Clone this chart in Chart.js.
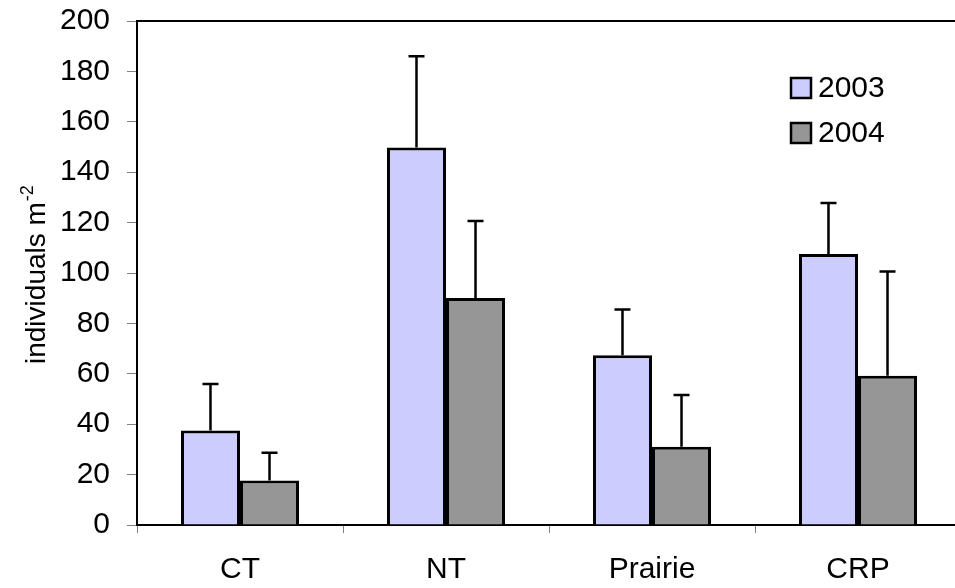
<!DOCTYPE html>
<html>
<head>
<meta charset="utf-8">
<script src="https://cdn.jsdelivr.net/npm/chart.js@4/dist/chart.umd.min.js"></script>
<style>
  html, body { margin: 0; padding: 0; background: #fff; overflow: hidden; }
  #wrap { position: absolute; left: 0; top: 0; width: 962px; height: 588px; }
</style>
</head>
<body>
<div id="wrap"><canvas id="grafico" width="962" height="588"></canvas></div>
<script>
// ====================== DATOS ======================
const categorias = ["CT", "NT", "Prairie", "CRP"];
const valores2003 = [37.5, 149.8, 67.4, 107.5];
const valores2004 = [17.7, 90.1, 31.1, 59.2];
const error2003 = [18.5, 36.2, 18.1, 20.3];
const error2004 = [11.0, 30.5, 20.5, 41.4];
const ticksY = [0, 20, 40, 60, 80, 100, 120, 140, 160, 180, 200];

const FUENTE = '"Liberation Sans", Arial, sans-serif';

// ====================== PLUGINS ======================
// barras de error (solo hacia arriba)
const barrasError = {
    id: "barrasError",
    afterDatasetsDraw(chart) {
        const ctx = chart.ctx;
        const y = chart.scales.y;
        ctx.save();
        ctx.strokeStyle = "#000";
        ctx.lineWidth = 2.5;
        chart.data.datasets.forEach((ds, i) => {
            const meta = chart.getDatasetMeta(i);
            meta.data.forEach((bar, j) => {
                const tope = y.getPixelForValue(ds.data[j] + ds.errores[j]);
                ctx.beginPath();
                ctx.moveTo(bar.x, bar.y);
                ctx.lineTo(bar.x, tope);
                ctx.moveTo(bar.x - 8, tope);
                ctx.lineTo(bar.x + 8, tope);
                ctx.stroke();
            });
        });
        ctx.restore();
    }
};

// linea superior del area de grafico
const bordeSuperior = {
    id: "bordeSuperior",
    afterDraw(chart) {
        const { ctx, chartArea } = chart;
        ctx.save();
        ctx.strokeStyle = "#000";
        ctx.lineWidth = 2;
        ctx.beginPath();
        ctx.moveTo(chartArea.left - 1, chartArea.top);
        ctx.lineTo(chartArea.right, chartArea.top);
        ctx.stroke();
        ctx.restore();
    }
};

// titulo del eje Y con superindice
const tituloY = {
    id: "tituloY",
    afterDraw(chart) {
        const ctx = chart.ctx;
        ctx.save();
        ctx.translate(45, 364);
        ctx.rotate(-Math.PI / 2);
        ctx.fillStyle = "#000";
        ctx.textBaseline = "alphabetic";
        ctx.textAlign = "left";
        ctx.font = "28px " + FUENTE;
        const texto = "individuals m";
        ctx.fillText(texto, 0, 0);
        const w = ctx.measureText(texto).width;
        ctx.font = "18px " + FUENTE;
        ctx.fillText("-2", w + 1, -12);
        ctx.restore();
    }
};

// leyenda dentro del grafico
const leyenda = {
    id: "leyenda",
    afterDraw(chart) {
        const ctx = chart.ctx;
        ctx.save();
        chart.data.datasets.forEach((ds, i) => {
            const yc = 88 + i * 45;
            ctx.fillStyle = ds.backgroundColor;
            ctx.fillRect(791, yc - 10, 20, 20);
            ctx.strokeStyle = "#000";
            ctx.lineWidth = 2.5;
            ctx.strokeRect(791, yc - 10, 20, 20);
            ctx.fillStyle = "#000";
            ctx.font = "30px " + FUENTE;
            ctx.textBaseline = "middle";
            ctx.fillText(ds.label, 818, yc + 1);
        });
        ctx.restore();
    }
};

// ====================== GRAFICO ======================
const ctx = document.getElementById("grafico").getContext("2d");
new Chart(ctx, {
    type: "bar",
    data: {
        labels: categorias,
        datasets: [
            {
                label: "2003",
                data: valores2003,
                errores: error2003,
                backgroundColor: "#CCCCFF",
                borderColor: "#000",
                borderWidth: 3,
                categoryPercentage: 0.573,
                barPercentage: 1.0
            },
            {
                label: "2004",
                data: valores2004,
                errores: error2004,
                backgroundColor: "#969696",
                borderColor: "#000",
                borderWidth: 3,
                categoryPercentage: 0.573,
                barPercentage: 1.0
            }
        ]
    },
    options: {
        responsive: false,
        animation: false,
        layout: { padding: { left: 0, top: 21, right: 1, bottom: 0 } },
        plugins: {
            legend: { display: false },
            tooltip: { enabled: false }
        },
        scales: {
            x: {
                afterFit(scale) { scale.height = 63; scale.paddingLeft = 0; scale.paddingRight = 0; },
                grid: { drawOnChartArea: false, color: "#808080", tickLength: 8, offset: true },
                border: { color: "#000", width: 2 },
                ticks: { color: "#000", font: { family: FUENTE, size: 30 }, padding: 19 }
            },
            y: {
                min: 0,
                max: 200,
                afterFit(scale) { scale.width = 137; scale.paddingTop = 0; scale.paddingBottom = 0; },
                afterBuildTicks(scale) { scale.ticks = ticksY.map(v => ({ value: v })); },
                grid: { drawOnChartArea: false, color: "#808080", tickLength: 10 },
                border: { color: "#000", width: 2 },
                ticks: { color: "#000", font: { family: FUENTE, size: 30 }, padding: 17 }
            }
        }
    },
    plugins: [barrasError, bordeSuperior, tituloY, leyenda]
});
</script>
</body>
</html>
